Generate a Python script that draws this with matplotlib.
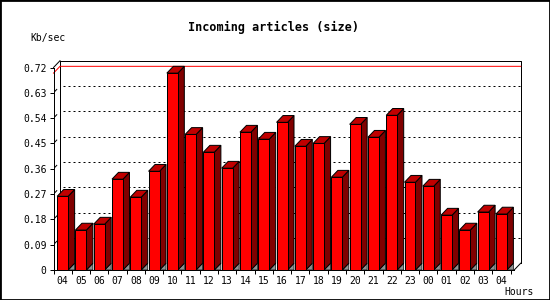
import numpy as np
import matplotlib
matplotlib.use('Agg')
import matplotlib.pyplot as plt
from matplotlib.patches import Polygon, Rectangle

hours = ['04', '05', '06', '07', '08', '09', '10', '11', '12', '13', '14', '15', '16',
         '17', '18', '19', '20', '21', '22', '23', '00', '01', '02', '03', '04']
kbsec = [0.262, 0.142, 0.163, 0.323, 0.259, 0.351, 0.700, 0.482, 0.419, 0.362, 0.490, 0.465, 0.525,
         0.440, 0.450, 0.330, 0.518, 0.472, 0.550, 0.312, 0.298, 0.195, 0.142, 0.206, 0.199]
yticks = [0, 0.09, 0.18, 0.27, 0.36, 0.45, 0.54, 0.63, 0.72]
ytick_labels = ['0', '0.09', '0.18', '0.27', '0.36', '0.45', '0.54', '0.63', '0.72']

W, H = 550, 300
fig = plt.figure(figsize=(W / 100, H / 100), dpi=100)
fig.patch.set_facecolor('white')

# axes placed in pixels: front axis x 53..514, y 270..67
xlo, xhi = -0.5, 24.7
ymax = 0.72
left, right, top, bottom = 53.5, 514.2, 67.5, 270
ax = fig.add_axes([left / W, (H - bottom) / H, (right - left) / W, (bottom - top) / H])
ax.set_xlim(xlo, xhi)
ax.set_ylim(0, ymax)
ax.set_facecolor('none')

sx = (right - left) / (xhi - xlo)   # px per bar unit
sy = (bottom - top) / ymax           # px per value unit
dx = 6.5 / sx
dy = 6.8 / sy
px = 0.72  # one pixel in points

for s in ['top', 'right']:
    ax.spines[s].set_visible(False)
ax.spines['left'].set_linewidth(px)
ax.spines['bottom'].set_linewidth(px)

mono = 'DejaVu Sans Mono'
x = np.arange(len(kbsec))
ax.set_yticks(yticks)
ax.set_yticklabels(ytick_labels, fontsize=7, family=mono)
ax.set_xticks(x)
ax.set_xticklabels(hours, fontsize=7, family=mono)
ax.set_xticks(np.arange(len(kbsec) + 1) - 0.5, minor=True)
ax.tick_params(axis='y', direction='out', length=3, width=px, pad=2)
ax.tick_params(axis='x', which='major', length=0, pad=4)
ax.tick_params(axis='x', which='minor', direction='out', length=3, width=px)

# back wall
bx0, bx1 = xlo + dx, xhi + dx
for v in yticks[1:-1]:
    ax.plot([bx0 + 0.15, bx1], [v + dy, v + dy], color='black', lw=px, ls=(0, (2, 3)), zorder=1, clip_on=False)
    ax.plot([xlo + dx * 0.2, xlo + dx * 0.5], [v + dy * 0.2, v + dy * 0.5], color='black', lw=px,
            zorder=1, clip_on=False)
ax.plot([bx0, bx1, bx1], [ymax + dy, ymax + dy, dy], color='black', lw=px, zorder=1, clip_on=False)
ax.plot([bx0, bx0], [dy, ymax + dy], color='black', lw=px, zorder=1, clip_on=False)
ax.plot([xlo, bx0], [ymax, ymax + dy], color='black', lw=px, zorder=1, clip_on=False)
ax.plot([xhi, bx1], [0, dy], color='black', lw=px, zorder=1, clip_on=False)

# max line
m = max(kbsec)
ax.plot([xlo, bx0, bx1], [m, m + dy, m + dy], color='red', lw=px, zorder=1.5, clip_on=False)

# 3d bars
bw = 0.6
for xi, v in zip(x, kbsec):
    l, r = xi - bw / 2, xi + bw / 2
    ax.add_patch(Polygon([(r, 0), (r + dx, dy), (r + dx, 0)], closed=True,
                         facecolor='#909090', edgecolor='black', lw=0.5, zorder=2, clip_on=False))
    ax.add_patch(Polygon([(r, 0), (r, v), (r + dx, v + dy), (r + dx, dy)], closed=True,
                         facecolor='#800000', edgecolor='black', lw=px, zorder=2, clip_on=False))
    ax.add_patch(Polygon([(l, v), (r, v), (r + dx, v + dy), (l + dx, v + dy)], closed=True,
                         facecolor='#c00000', edgecolor='black', lw=px, zorder=2, clip_on=False))
ax.bar(x, kbsec, width=bw, color='#ff0000', edgecolor='black', linewidth=px, zorder=3, clip_on=False)

fig.text(274 / W, 1 - 27 / H, 'Incoming articles (size)', ha='center', va='center',
         fontsize=8.5, fontweight='bold', family=mono)
fig.text(30 / W, 1 - 38 / H, 'Kb/sec', ha='left', va='center', fontsize=7, family=mono)
fig.text(534 / W, 1 - 292 / H, 'Hours', ha='right', va='center', fontsize=7, family=mono)

fig.patches.append(Rectangle((0, 0), 1, 1, transform=fig.transFigure, fill=False,
                             edgecolor='black', lw=2))

fig.savefig('out.png', dpi=100)
